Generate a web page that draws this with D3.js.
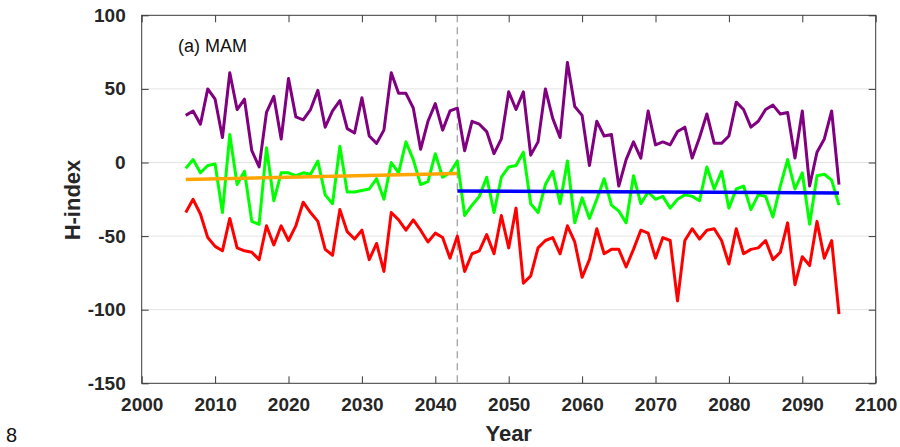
<!DOCTYPE html>
<html>
<head>
<meta charset="utf-8">
<script src="https://cdn.jsdelivr.net/npm/d3@7"></script>
<style>
  html, body { margin: 0; padding: 0; background: #fff; }
  svg { display: block; font-family: "Liberation Sans", Arial, Helvetica, sans-serif; }
</style>
</head>
<body>
<svg id="chart" width="900" height="447"></svg>
<script>
// Annual H-index for spring (MAM), 2006-2095
const startYear = 2006;
const hUpper = [32,35,26,50,43,17,61,36,43,8,
  -3,34,45,16,57,31,29,36,49,24,
  35,42,23,20,44,18,13,22,61,47,
  47,37,9,28,40,22,35,37,8,28,
  26,21,6,16,48,36,48,5,14,50,
  30,17,68,38,32,-2,28,18,19,-16,
  2,14,3,35,12,14,12,21,24,3,
  17,33,13,13,18,41,36,24,28,36,
  39,33,34,3,35,-16,7,16,35,-15];
const hMean = [-4,2,-7,-2,-1,-34,19,-15,-6,-40,
  -42,10,-26,-7,-7,-9,-7,-8,1,-22,
  -28,11,-20,-20,-19,-18,-11,-25,0,-7,
  14,2,-15,-13,6,-10,-7,1,-36,-29,
  -23,-10,-34,-10,-3,-2,7,-28,-34,-15,
  -6,-28,1,-41,-24,-38,-25,-11,-29,-33,
  -41,-9,-28,-20,-25,-23,-31,-25,-22,-23,
  -26,-3,-18,-6,-31,-18,-16,-32,-22,-23,
  -37,-16,2,-18,-7,-42,-9,-8,-12,-29];
const hLower = [-34,-25,-35,-51,-57,-60,-38,-58,-60,-61,
  -66,-43,-56,-43,-53,-43,-27,-34,-40,-59,
  -63,-32,-47,-52,-46,-66,-55,-74,-34,-39,
  -46,-39,-46,-54,-48,-51,-65,-50,-74,-62,
  -60,-49,-62,-36,-58,-31,-82,-77,-58,-53,
  -51,-62,-43,-54,-78,-66,-45,-62,-59,-59,
  -71,-59,-46,-48,-65,-51,-53,-94,-53,-45,
  -52,-46,-45,-53,-69,-45,-62,-59,-58,-53,
  -66,-61,-41,-83,-64,-70,-40,-65,-53,-103];

// Linear trends of the mean series before and after the change point
const changeYear = 2043;
const trendEarly = [[2006, -11.5], [2043, -7.5]];
const trendLate = [[2043, -19.3], [2095, -20.7]];

const xTicks = [2000,2010,2020,2030,2040,2050,2060,2070,2080,2090,2100];
const yTicks = [-150,-100,-50,0,50,100];

const svg = d3.select("#chart");
const padL = 141.7, padR = 875.7, padT = 15.3, padB = 383.3;

const x = d3.scaleLinear().domain([2000, 2100]).range([padL, padR]);
const y = d3.scaleLinear().domain([-150, 100]).range([padB, padT]);

const axisColor = "#3a3a3a";
const plainNum = d => String(d);   // ASCII hyphen for negatives

// horizontal grid
svg.append("g")
  .selectAll("line")
  .data(yTicks.filter(v => v > -150 && v < 100))
  .join("line")
  .attr("x1", padL).attr("x2", padR)
  .attr("y1", d => y(d)).attr("y2", d => y(d))
  .attr("stroke", "#e3e3e3").attr("stroke-width", 1);

// change point
svg.append("line")
  .attr("x1", x(changeYear)).attr("x2", x(changeYear))
  .attr("y1", padT).attr("y2", padB)
  .attr("stroke", "#a8a8a8").attr("stroke-width", 1.4)
  .attr("stroke-dasharray", "7,5");

const years = d3.range(hUpper.length).map(i => startYear + i);
const line = d3.line().x(d => x(d[0])).y(d => y(d[1]));

const series = [
  {values: hUpper, color: "#800080"},
  {values: hMean, color: "#00ff00"},
  {values: hLower, color: "#ff0000"}
];
series.forEach(s => {
  svg.append("path")
    .datum(s.values.map((v, i) => [years[i], v]))
    .attr("d", line)
    .attr("fill", "none")
    .attr("stroke", s.color)
    .attr("stroke-width", 3)
    .attr("stroke-linejoin", "round");
});

svg.append("path").datum(trendEarly).attr("d", line)
  .attr("fill", "none").attr("stroke", "#ffa500").attr("stroke-width", 3.5);
svg.append("path").datum(trendLate).attr("d", line)
  .attr("fill", "none").attr("stroke", "#0000ff").attr("stroke-width", 3.5);

// axes with inward ticks on all four sides
const tickFont = g => g.selectAll("text")
  .attr("font-size", 19).attr("font-weight", "bold").attr("fill", "#262626");
const strip = g => { g.select(".domain").remove(); g.selectAll("line").attr("stroke", axisColor); };

svg.append("g").attr("transform", `translate(0,${padB})`)
  .call(d3.axisBottom(x).tickValues(xTicks).tickFormat(plainNum)
    .tickSizeInner(-7).tickSizeOuter(0).tickPadding(14))
  .call(strip).call(tickFont)
  .call(g => g.attr("font-family", null));

svg.append("g").attr("transform", `translate(0,${padT})`)
  .call(d3.axisTop(x).tickValues(xTicks).tickFormat("").tickSizeInner(-7).tickSizeOuter(0))
  .call(strip);

svg.append("g").attr("transform", `translate(${padL},0)`)
  .call(d3.axisLeft(y).tickValues(yTicks).tickFormat(plainNum)
    .tickSizeInner(-7).tickSizeOuter(0).tickPadding(16))
  .call(strip).call(tickFont)
  .call(g => g.attr("font-family", null));

svg.append("g").attr("transform", `translate(${padR},0)`)
  .call(d3.axisRight(y).tickValues(yTicks).tickFormat("").tickSizeInner(-7).tickSizeOuter(0))
  .call(strip);

// frame
svg.append("rect")
  .attr("x", padL).attr("y", padT)
  .attr("width", padR - padL).attr("height", padB - padT)
  .attr("fill", "none").attr("stroke", axisColor).attr("stroke-width", 1);

// labels
svg.append("text")
  .attr("x", (padL + padR) / 2).attr("y", 441)
  .attr("text-anchor", "middle")
  .attr("font-size", 22).attr("font-weight", "bold").attr("fill", "#262626")
  .text("Year");

svg.append("text")
  .attr("transform", "translate(80,200) rotate(-90)")
  .attr("text-anchor", "middle")
  .attr("font-size", 22).attr("font-weight", "bold").attr("fill", "#262626")
  .text("H-index");

svg.append("text")
  .attr("x", 178).attr("y", 52)
  .attr("font-size", 18).attr("fill", "#111")
  .text("(a) MAM");

svg.append("text")
  .attr("x", 6).attr("y", 442)
  .attr("font-size", 20).attr("fill", "#111")
  .text("8");
</script>
</body>
</html>
